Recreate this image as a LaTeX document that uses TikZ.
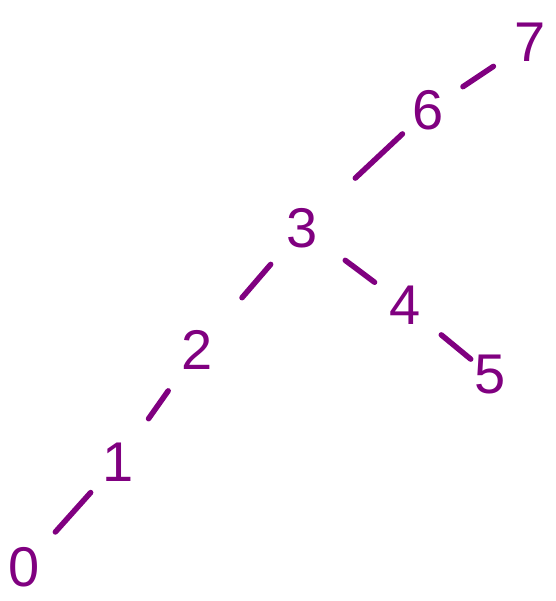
\documentclass[tikz,border=0pt]{standalone}
\usepackage{fontspec}
\setmainfont{Liberation Sans}
\definecolor{pp}{RGB}{128,0,128}
\begin{document}
\begin{tikzpicture}[x=1pt,y=-1pt,
  num/.style={text=pp,inner sep=0pt,font=\fontsize{56}{56}\selectfont},
  edge/.style={draw=pp,line width=5.5pt,line cap=round}]
\useasboundingbox (0,0) rectangle (555,601);
\node[num] (n0) at (24,567) {0};
\node[num] (n1) at (118,462) {1};
\node[num] (n2) at (197,350) {2};
\node[num] (n3) at (302,228) {3};
\node[num] (n4) at (405,305) {4};
\node[num] (n5) at (490,375) {5};
\node[num] (n6) at (428,110) {6};
\node[num] (n7) at (530,42) {7};
\draw[edge,shorten <=47pt,shorten >=41pt] (n0.center) -- (n1.center);
\draw[edge,shorten <=53pt,shorten >=50pt] (n1.center) -- (n2.center);
\draw[edge,shorten <=69pt,shorten >=48pt] (n2.center) -- (n3.center);
\draw[edge,shorten <=54pt,shorten >=38pt] (n3.center) -- (n4.center);
\draw[edge,shorten <=47pt,shorten >=25pt] (n4.center) -- (n5.center);
\draw[edge,shorten <=73pt,shorten >=35pt] (n3.center) -- (n6.center);
\draw[edge,shorten <=42pt,shorten >=44pt] (n6.center) -- (n7.center);
\end{tikzpicture}
\end{document}
